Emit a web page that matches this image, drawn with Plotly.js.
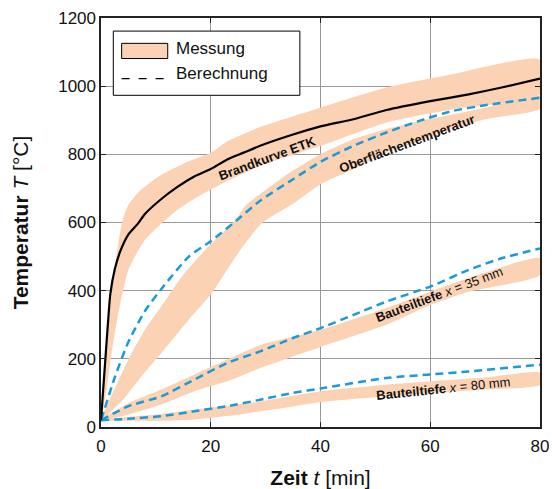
<!DOCTYPE html>
<html><head><meta charset="utf-8">
<script src="https://cdn.plot.ly/plotly-3.0.1.min.js"></script>
<style>html,body{margin:0;padding:0;background:#fff}#chart{width:552px;height:489px}</style>
</head><body><div id="chart"></div>
<script>
// ---- axis ticks ----
const xTicks = [0, 20, 40, 60, 80];
const yTicks = [0, 200, 400, 600, 800, 1000, 1200];

// ---- Brandkurve ETK (solid black) ----
const etkT    = [0, 0.4, 0.8, 1.2, 1.7, 2.5, 3.5, 5, 6.8, 8, 11, 14, 17, 20, 23, 26, 29, 35, 40, 46, 52, 60, 67, 73, 80];
const etkTemp = [20, 110, 200, 290, 390, 462, 515, 565, 598, 625, 669, 705, 735, 757, 785, 805, 825, 858, 882, 903, 930, 956, 976, 996, 1022];

// ---- Messung band around ETK ----
const etkUpT  = [0, 0.5, 1, 1.5, 2, 3, 4, 5, 7, 11, 16, 20, 23, 29, 40, 52, 64, 80];
const etkUp   = [20, 130, 240, 330, 400, 525, 610, 652, 692, 740, 780, 805, 838, 880, 937, 996, 1035, 1078];
const etkLoT  = [0, 1, 2, 3, 4, 5, 6.5, 8, 11, 14, 17, 23, 29, 40, 52, 64, 80];
const etkLo   = [20, 110, 225, 320, 400, 461, 510, 549, 597, 638, 670, 722, 766, 825, 893, 932, 976];

// ---- Oberflächentemperatur ----
const oberCalcT = [0, 2.5, 5, 8, 11, 16, 20, 25, 29, 35, 40, 46, 52, 58, 64, 70, 80];
const oberCalc  = [20, 145, 250, 340, 405, 500, 545, 610, 664, 727, 778, 825, 864, 898, 927, 944, 966];
const oberUpT   = [0, 3, 5.6, 8, 11, 14.7, 19, 24.5, 26.3, 30, 34, 40, 46, 52, 58, 64, 70, 80];
const oberUp    = [20, 130, 217, 285, 354, 441, 520, 607, 649, 695, 742, 800, 844, 874, 898, 917, 937, 971];
const oberLoT   = [0, 4, 7.4, 11, 16, 20.2, 25, 29.3, 35, 40, 46, 52, 58, 64, 70, 80];
const oberLo    = [20, 80, 149, 217, 315, 393, 510, 598, 655, 712, 756, 805, 839, 874, 903, 934];

// ---- Bauteiltiefe x = 35 mm ----
const d35CalcT = [0, 5, 11, 17, 23, 29, 35, 40, 46, 52, 60, 67, 73, 80];
const d35Calc  = [20, 61, 90, 139, 188, 222, 261, 290, 329, 368, 412, 461, 495, 524];
const d35BandT = [0, 5, 11, 17, 23, 29, 40, 52, 60, 67, 80];
const d35Up    = [20, 70, 110, 154, 198, 240, 285, 349, 397, 437, 495];
const d35Lo    = [20, 37, 66, 105, 134, 173, 235, 300, 358, 397, 446];

// ---- Bauteiltiefe x = 80 mm ----
const d80CalcT = [0, 5, 11, 17, 23, 29, 35, 40, 52, 60, 67, 80];
const d80Calc  = [20, 24, 32, 46, 61, 80, 100, 113, 144, 154, 163, 183];
const d80BandT = [0, 5, 11, 17, 23, 29, 35, 40, 52, 60, 70, 80];
const d80Up    = [20, 30, 38, 51, 62, 75, 92, 105, 124, 134, 145, 159];
const d80Lo    = [20, 18, 18, 22, 32, 46, 60, 73, 90, 100, 110, 124];

// ---- labels ----
const legendLabels = ['Messung', 'Berechnung'];
const curveLabels = ['<b>Brandkurve ETK</b>', '<b>Oberflächentemperatur</b>',
  '<b>Bauteiltiefe</b> <i>x</i> = 35 mm', '<b>Bauteiltiefe</b> <i>x</i> = 80 mm'];

const BAND = '#FCD2B4';
const BLUE = '#1A9AD9';
const FONT = 'Liberation Sans, Arial, Helvetica, sans-serif';

function band(upT, up, loT, lo, name) {
  return {
    x: upT.concat(loT.slice().reverse()),
    y: up.concat(lo.slice().reverse()),
    type: 'scatter', mode: 'lines', fill: 'toself', fillcolor: BAND,
    line: {width: 0, color: BAND, shape: 'spline', smoothing: 0.6},
    hoverinfo: 'skip', showlegend: false, name: name
  };
}
function calc(t, v, name) {
  return {x: t, y: v, type: 'scatter', mode: 'lines', name: name, showlegend: false,
    line: {color: BLUE, width: 2.5, dash: '8px,5px', shape: 'spline', smoothing: 0.6}};
}

const traces = [
  band(etkUpT, etkUp, etkLoT, etkLo, 'Messung ETK'),
  band(oberUpT, oberUp, oberLoT, oberLo, 'Messung Oberfläche'),
  band(d35BandT, d35Up, d35BandT, d35Lo, 'Messung 35 mm'),
  band(d80BandT, d80Up, d80BandT, d80Lo, 'Messung 80 mm'),
  calc(oberCalcT, oberCalc, 'Berechnung Oberfläche'),
  calc(d35CalcT, d35Calc, 'Berechnung 35 mm'),
  calc(d80CalcT, d80Calc, 'Berechnung 80 mm'),
  {x: etkT, y: etkTemp, type: 'scatter', mode: 'lines', name: 'Brandkurve ETK', showlegend: false,
   line: {color: '#000', width: 2.2, shape: 'spline', smoothing: 0.6}}
];

// hand-drawn legend (paper coords)
const legendShapes = [
  {type: 'rect', xref: 'paper', yref: 'paper', x0: 0.028, x1: 0.453, y0: 0.811, y1: 0.968,
   line: {color: '#000', width: 1}, fillcolor: '#fff', layer: 'above'},
  {type: 'rect', xref: 'paper', yref: 'paper', x0: 0.047, x1: 0.152, y0: 0.901, y1: 0.938,
   line: {color: '#000', width: 1}, fillcolor: BAND, layer: 'above'},
  {type: 'line', xref: 'paper', yref: 'paper', x0: 0.047, x1: 0.143, y0: 0.852, y1: 0.852,
   line: {color: '#000', width: 1.2, dash: '8px,9px'}, layer: 'above'}
];

const annotations = [
  {xref: 'paper', yref: 'paper', x: 0.166, y: 0.925, xanchor: 'left', yanchor: 'middle',
   text: legendLabels[0], showarrow: false, font: {family: FONT, size: 17, color: '#111'}},
  {xref: 'paper', yref: 'paper', x: 0.166, y: 0.864, xanchor: 'left', yanchor: 'middle',
   text: legendLabels[1], showarrow: false, font: {family: FONT, size: 17, color: '#111'}},
  {x: 30.2, y: 788, text: curveLabels[0], textangle: -20.5, showarrow: false,
   font: {family: FONT, size: 13, color: '#111'}},
  {x: 55.8, y: 832, text: curveLabels[1], textangle: -20.5, showarrow: false,
   font: {family: FONT, size: 13, color: '#111'}},
  {x: 61.6, y: 388, text: curveLabels[2], textangle: -20.5, showarrow: false,
   font: {family: FONT, size: 13, color: '#111'}},
  {x: 62.5, y: 112, text: curveLabels[3], textangle: -6, showarrow: false,
   font: {family: FONT, size: 13, color: '#111'}}
];

const axisCommon = {
  showgrid: true, gridcolor: '#999', gridwidth: 1,
  showline: true, linecolor: '#222', linewidth: 1.6, mirror: 'ticks',
  ticks: 'inside', ticklen: 5, tickcolor: '#222', tickwidth: 1.2,
  zeroline: false, tickfont: {family: FONT, size: 17, color: '#111'}
};

const layout = {
  width: 552, height: 489,
  margin: {l: 101, r: 12, t: 18, b: 62},
  paper_bgcolor: '#fff', plot_bgcolor: '#fff',
  showlegend: false,
  xaxis: Object.assign({}, axisCommon, {
    range: [0, 80], tickvals: xTicks, ticktext: xTicks.map(String), ticklabelstandoff: 3,
    title: {text: '<b>Zeit</b> <i>t</i> [min]', font: {family: FONT, size: 21, color: '#111'}, standoff: 19}
  }),
  yaxis: Object.assign({}, axisCommon, {
    range: [0, 1200], tickvals: yTicks, ticktext: yTicks.map(String),
    title: {text: '<b>Temperatur</b> <i>T</i> [°C]', font: {family: FONT, size: 21, color: '#111'}, standoff: 24}
  }),
  shapes: legendShapes,
  annotations: annotations
};

Plotly.newPlot('chart', traces, layout, {displayModeBar: false, staticPlot: true});
</script>
</body></html>
